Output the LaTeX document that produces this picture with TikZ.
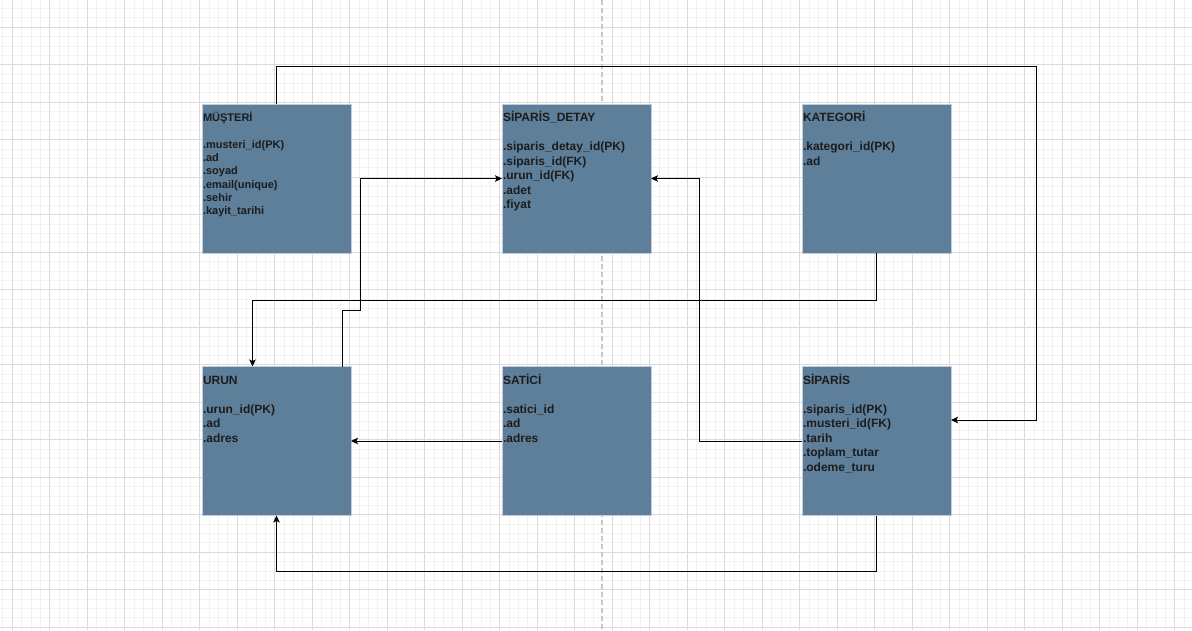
\documentclass[tikz,border=0pt]{standalone}
\usepackage{fontspec}
\setmainfont{Liberation Sans}
\usetikzlibrary{arrows.meta}

\definecolor{gridminor}{HTML}{F2F2F2}
\definecolor{gridmajor}{HTML}{DADADA}
\definecolor{guide}{HTML}{C8C8C8}
\definecolor{tablefill}{HTML}{5E7F9A}
\definecolor{tableedge}{HTML}{C5CADC}
\definecolor{tabletext}{HTML}{1C1C1C}

\tikzset{
  table/.style={draw=tableedge, fill=tablefill, line width=1pt,
    minimum width=149pt, minimum height=149pt, inner sep=0pt, outer sep=0pt},
  tabletxt/.style={anchor=north west, inner sep=0pt, outer sep=0pt,
    align=left, text=tabletext,
    font=\fontsize{12}{14.5}\selectfont\bfseries},
  smalltxt/.style={tabletxt, font=\fontsize{11}{13.3}\selectfont\bfseries},
  conn/.style={draw=black, line width=1pt,
    -{Stealth[length=7pt,width=6.5pt,inset=1.5pt]}},
}
\newcommand{\firstline}{\rule{0pt}{10.5pt}}

\begin{document}
\begin{tikzpicture}[x=1pt,y=-1pt]
  % canvas and grid
  \fill[white] (0,0) rectangle (1192,630);
  \useasboundingbox (0,0) rectangle (1192,630);
  \foreach \i in {0,...,127}
    \draw[gridminor, line width=1pt] ({2.925+\i*9.375},0) -- ({2.925+\i*9.375},630);
  \foreach \j in {0,...,67}
    \draw[gridminor, line width=1pt] (0,{8.55+\j*9.375}) -- (1192,{8.55+\j*9.375});
  \foreach \i in {0,...,31}
    \draw[gridmajor, line width=1pt] ({12.3+\i*37.5},0) -- ({12.3+\i*37.5},630);
  \foreach \j in {0,...,16}
    \draw[gridmajor, line width=1pt] (0,{27.3+\j*37.5}) -- (1192,{27.3+\j*37.5});
  % page centre guide
  \draw[guide, line width=1.3pt, dash pattern=on 5pt off 3pt] (602,0) -- (602,630);

  % tables
  \node[table] (musteri)  at (276.5,178.5) {};
  \node[table] (detay)    at (576.5,178.5) {};
  \node[table] (kategori) at (876.5,178.5) {};
  \node[table] (urun)     at (276.5,441) {};
  \node[table] (satici)   at (576.5,441) {};
  \node[table] (siparis)  at (876.5,441) {};

  % table contents
  \node[smalltxt] (musteri-t) at ([xshift=1pt,yshift=-7pt]musteri.north west)
    {\firstline MÜŞTERİ\\[13.3pt] .musteri\_id(PK)\\ .ad\\ .soyad\\ .email(unique)\\ .sehir\\ .kayit\_tarihi};
  \node[tabletxt] (detay-t) at ([xshift=1pt,yshift=-7.3pt]detay.north west)
    {\firstline SİPARİS\_DETAY\\[14.5pt] .siparis\_detay\_id(PK)\\ .siparis\_id(FK)\\ .urun\_id(FK)\\ .adet\\ .fiyat};
  \node[tabletxt] (kategori-t) at ([xshift=1pt,yshift=-7.3pt]kategori.north west)
    {\firstline KATEGORİ\\[14.5pt] .kategori\_id(PK)\\ .ad};
  \node[tabletxt] (urun-t) at ([xshift=1pt,yshift=-7.3pt]urun.north west)
    {\firstline URUN\\[14.5pt] .urun\_id(PK)\\ .ad\\ .adres};
  \node[tabletxt] (satici-t) at ([xshift=1pt,yshift=-7.3pt]satici.north west)
    {\firstline SATİCİ\\[14.5pt] .satici\_id\\ .ad\\ .adres};
  \node[tabletxt] (siparis-t) at ([xshift=1pt,yshift=-7.3pt]siparis.north west)
    {\firstline SİPARİS\\[14.5pt] .siparis\_id(PK)\\ .musteri\_id(FK)\\ .tarih\\ .toplam\_tutar\\ .odeme\_turu};

  % bend points of the relations
  \coordinate (topright) at (1036,66);
  \coordinate (urunjog)  at (360,310);
  \coordinate (detayjog) at (699,178.5);

  % relations
  \draw[conn] (musteri.north) |- (topright) |- ([yshift=21pt]siparis.east);
  \draw[conn] (kategori.south) -- ++(0,47) -| ([xshift=-24pt]urun.north);
  \draw[conn] ([xshift=66pt]urun.north) |- (urunjog) |- (detay.west);
  \draw[conn] (siparis.west) -| (detayjog) -- (detay.east);
  \draw[conn] (satici.west) -- (urun.east);
  \draw[conn] (siparis.south) -- ++(0,56) -| (urun.south);
\end{tikzpicture}
\end{document}
